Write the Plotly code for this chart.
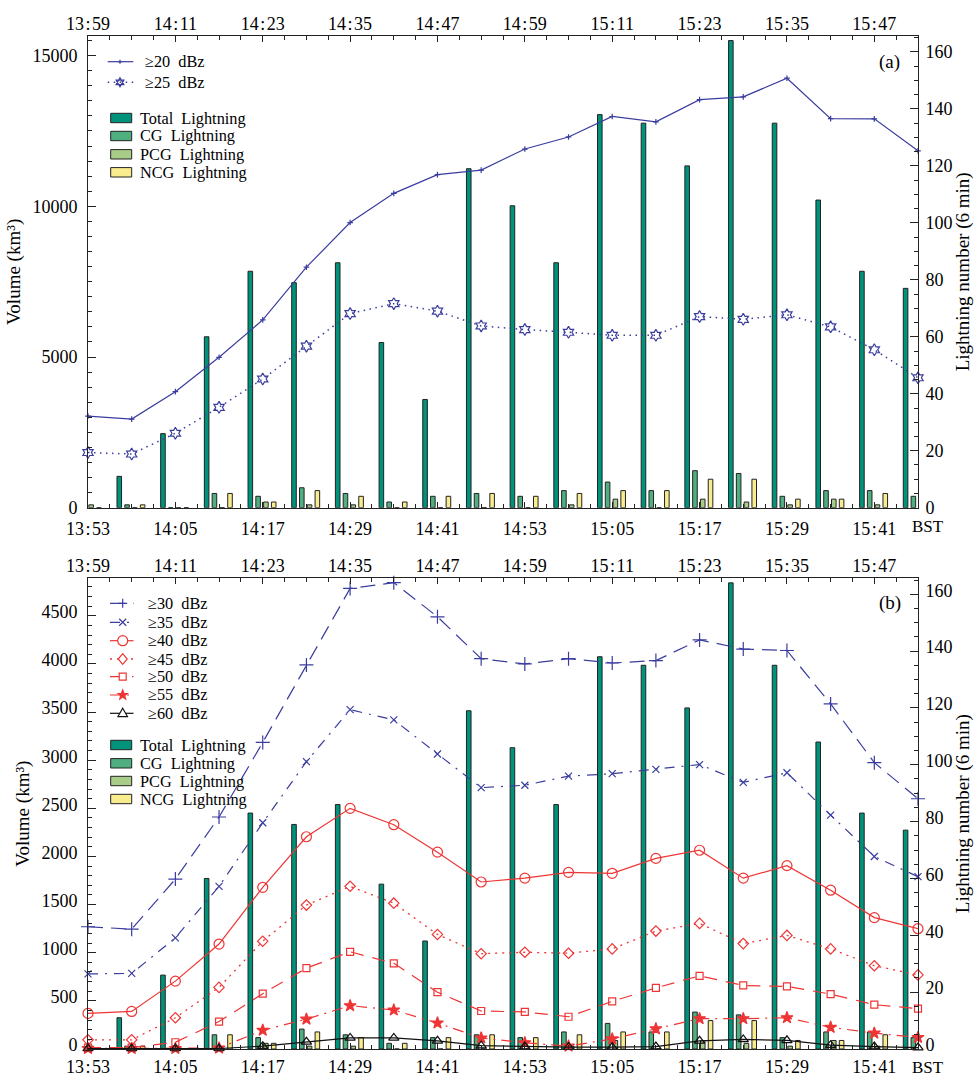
import math
import plotly.graph_objects as go

# ---------------- data ----------------
sample_times = ["13:53", "13:59", "14:05", "14:11", "14:17", "14:23", "14:29", "14:35",
                "14:41", "14:47", "14:53", "14:59", "15:05", "15:11", "15:17", "15:23",
                "15:29", "15:35", "15:41", "15:47"]
bottom_tick_labels = ["13:53", "14:05", "14:17", "14:29", "14:41", "14:53", "15:05",
                      "15:17", "15:29", "15:41"]
top_tick_labels = ["13:59", "14:11", "14:23", "14:35", "14:47", "14:59", "15:11",
                   "15:23", "15:35", "15:47"]

total_lightning = [None, 11, 26, 60, 83, 79, 86, 58, 38, 119, 106, 86, 138, 135, 120, 164, 135, 108, 83, 77]
cg_lightning = [None, 1, 0, 5, 4, 7, 5, 2, 4, 5, 4, 6, 9, 6, 13, 12, 4, 6, 6, 4]
pcg_lightning = [1, 0, 0, 0, 2, 1, 1, 0, 0, 0, 0, 1, 3, 0, 3, 2, 1, 3, 1, None]
ncg_lightning = [0, 1, 0, 5, 2, 6, 4, 2, 4, 5, 4, 5, 6, 6, 10, 10, 3, 3, 5, None]

vol_20 = [3040, 2940, 3850, 4990, 6230, 7980, 9460, 10430, 11050, 11200, 11900, 12300,
          12980, 12800, 13540, 13630, 14250, 12910, 12900, 11840]
vol_25 = [1830, 1780, 2470, 3330, 4270, 5360, 6440, 6770, 6520, 6030, 5910, 5820,
          5720, 5720, 6340, 6250, 6400, 6000, 5240, 4310]
vol_30 = [1270, 1245, 1765, 2410, 3185, 3990, 4785, 4845, 4490, 4055, 4000, 4055,
          4010, 4035, 4250, 4155, 4140, 3585, 2975, 2600]
vol_35 = [780, 785, 1155, 1690, 2350, 2985, 3525, 3420, 3065, 2715, 2740, 2835,
          2860, 2905, 2955, 2770, 2870, 2430, 2000, 1790]
vol_40 = [370, 390, 705, 1090, 1680, 2205, 2500, 2330, 2045, 1735, 1775, 1835,
          1825, 1980, 2065, 1775, 1905, 1650, 1365, 1250]
vol_45 = [95, 95, 325, 640, 1120, 1495, 1690, 1515, 1190, 990, 1005, 995,
          1040, 1225, 1305, 1095, 1180, 1040, 865, 770]
vol_50 = [15, 15, 70, 285, 575, 840, 1010, 890, 590, 395, 385, 335,
          495, 635, 760, 660, 650, 570, 460, 420]
vol_55 = [5, 5, 5, 10, 195, 310, 450, 405, 270, 115, 65, 30,
          105, 210, 315, 315, 325, 225, 165, 120]
vol_60 = [5, 5, 5, 5, 30, 75, 115, 115, 85, 35, 25, 20,
          20, 25, 85, 100, 90, 40, 25, 15]


def to_min(s):
    h, m = s.split(":")
    return int(h) * 60 + int(m) - (13 * 60 + 53)


def spaced(s):
    return s.replace(":", "\u200a:\u200a")


x = [to_min(t) for t in sample_times]
bottom_vals = [to_min(t) for t in bottom_tick_labels]
top_vals = [to_min(t) for t in top_tick_labels]

# ---------------- styles ----------------
FONT = "Liberation Serif"
BLUE = "#3a3d9e"
RED = "#ee3535"
BLACK = "#111111"
AX = "#222222"
C_TOTAL, C_CG, C_PCG, C_NCG = "#00937b", "#4faf80", "#a9cd89", "#f9ec8e"

W, H = 974, 1077
ML, MR, MT, MB = 88, 56, 36, 28
PW, PH = W - ML - MR, H - MT - MB


def pxx(x_):
    return (x_ - ML) / PW


def pxy(y_):
    return (H - MB - y_) / PH


A_TOP, A_BOT = 36, 507.7
B_TOP, B_BOT = 578.3, 1049
dom_a = [pxy(A_BOT), pxy(A_TOP)]
dom_b = [pxy(B_BOT), pxy(B_TOP)]

bar_defs = [
    ("Total Lightning", total_lightning, C_TOTAL, -2.02),
    ("CG Lightning", cg_lightning, C_CG, -0.95),
    ("PCG Lightning", pcg_lightning, C_PCG, 0.12),
    ("NCG Lightning", ncg_lightning, C_NCG, 1.19),
]

lines_a = [
    ("≥20 dBz", vol_20, BLUE, "solid", "cross-thin-open", 4, 1.2),
    ("≥25 dBz", vol_25, BLUE, "1.5px,4.5px", "hexagram-open", 9, 1.5),
]
lines_b = [
    ("≥30 dBz", vol_30, BLUE, "15px,8px", "cross-thin-open", 10, 1.2),
    ("≥35 dBz", vol_35, BLUE, "10px,7px,2px,7px", "x-thin-open", 7, 1.2),
    ("≥40 dBz", vol_40, RED, "solid", "circle-open", 10, 1.2),
    ("≥45 dBz", vol_45, RED, "2px,5px", "diamond-open", 8, 1.3),
    ("≥50 dBz", vol_50, RED, "13px,9px", "square-open", 7, 1.2),
    ("≥55 dBz", vol_55, RED, "11px,6px,2px,6px", "star", 9, 1.2),
    ("≥60 dBz", vol_60, BLACK, "solid", "triangle-up-open", 9, 1.2),
]

fig = go.Figure()

for xa, ya in (("x", "y"), ("x3", "y3")):
    for name, vals, col, off in bar_defs:
        fig.add_trace(go.Bar(x=x, y=vals, offset=off, width=0.63, name=name,
                             xaxis=xa, yaxis=ya, showlegend=False,
                             marker=dict(color=col, line=dict(color=AX, width=1))))

for lines, xa, ya in ((lines_a, "x", "y2"), (lines_b, "x3", "y4")):
    for name, vals, col, dash, sym, size, lw in lines:
        fig.add_trace(go.Scatter(x=x, y=vals, mode="lines+markers", name=name,
                                 xaxis=xa, yaxis=ya, showlegend=False, cliponaxis=False,
                                 line=dict(color=col, width=lw, dash=dash),
                                 marker=dict(symbol=sym, size=size, color=col,
                                             line=dict(color=col, width=1.2))))

# empty traces so that the top (end-of-interval) time axes are drawn
for xa, ya in (("x2", "y"), ("x4", "y3")):
    fig.add_trace(go.Scatter(x=[], y=[], xaxis=xa, yaxis=ya, showlegend=False,
                             hoverinfo="skip", mode="markers"))

# ---------------- axes ----------------
minor_bottom = list(range(0, 115, 3))
minor_top = list(range(6, 121, 3))


def xaxis_cfg(**kw):
    d = dict(showline=True, linecolor=AX, linewidth=1, ticks="inside", ticklen=6,
             tickcolor=AX, showgrid=False, zeroline=False, tickmode="array", automargin=False,
             tickfont=dict(size=18, family=FONT, color="black"), ticklabelstandoff=4)
    d.update(kw)
    return d


def yaxis_cfg(**kw):
    d = dict(showline=True, linecolor=AX, linewidth=1, ticks="inside", ticklen=8,
             tickcolor=AX, showgrid=False, zeroline=False, tickmode="linear", tick0=0,
             automargin=False, tickformat="d", tickfont=dict(size=18, family=FONT, color="black"))
    d.update(kw)
    return d


def minor_x(vals):
    return dict(tickmode="array", tickvals=vals, ticks="inside", ticklen=4, tickcolor=AX)


layout_axes = dict(
    xaxis=xaxis_cfg(domain=[0, 1], anchor="y", range=[0, 114], tickvals=bottom_vals,
                    ticktext=[spaced(s) for s in bottom_tick_labels], minor=minor_x(minor_bottom),
                    ticklabelstandoff=5),
    xaxis2=xaxis_cfg(overlaying="x", side="top", anchor="y", range=[6, 120], tickvals=top_vals,
                     ticktext=[spaced(s) for s in top_tick_labels], minor=minor_x(minor_top),
                     ticklabelstandoff=-2),
    yaxis=yaxis_cfg(domain=dom_a, anchor="x", side="right", range=[0, 165.6], dtick=20,
                    ticklabelstandoff=3,
                    minor=dict(dtick=5, ticks="inside", ticklen=4, tickcolor=AX),
                    title=dict(text="Lightning number (6 min)", font=dict(size=19, family=FONT),
                               standoff=6)),
    yaxis2=yaxis_cfg(overlaying="y", side="left", anchor="x", range=[0, 15650], dtick=5000,
                     ticklabelstandoff=6,
                     minor=dict(dtick=500, ticks="inside", ticklen=4, tickcolor=AX),
                     title=dict(text="Volume (km³)", font=dict(size=19, family=FONT), standoff=6)),
    xaxis3=xaxis_cfg(domain=[0, 1], anchor="y3", range=[0, 114], tickvals=bottom_vals,
                     ticktext=[spaced(s) for s in bottom_tick_labels], minor=minor_x(minor_bottom),
                     ticklabelstandoff=1),
    xaxis4=xaxis_cfg(overlaying="x3", side="top", anchor="y3", range=[6, 120], tickvals=top_vals,
                     ticktext=[spaced(s) for s in top_tick_labels], minor=minor_x(minor_top),
                     ticklabelstandoff=-2),
    yaxis3=yaxis_cfg(domain=dom_b, anchor="x3", side="right", range=[0, 165.6], dtick=20,
                     ticklabelstandoff=3, ticklabelshift=-4,
                     minor=dict(dtick=5, ticks="inside", ticklen=4, tickcolor=AX),
                     title=dict(text="Lightning number (6 min)", font=dict(size=19, family=FONT),
                                standoff=6)),
    yaxis4=yaxis_cfg(overlaying="y3", side="left", anchor="x3", range=[0, 4890], dtick=500,
                     ticklabelstandoff=6, ticklabelshift=-4,
                     minor=dict(dtick=100, ticks="inside", ticklen=4, tickcolor=AX),
                     title=dict(text="Volume (km³)", font=dict(size=19, family=FONT), standoff=6)),
)

# ---------------- manual legends ----------------
shapes = []
annotations = []


def P(xp, yp):
    return f"{pxx(xp):.5f},{pxy(yp):.5f}"


def marker_shapes(sym, cx, cy, r, col):
    ln = dict(color=col, width=1.2)
    out = []
    if sym.startswith("cross"):
        out.append(dict(type="path", path=f"M{P(cx - r, cy)} L{P(cx + r, cy)} M{P(cx, cy - r)} L{P(cx, cy + r)}", line=ln))
    elif sym.startswith("x"):
        out.append(dict(type="path", path=f"M{P(cx - r, cy - r)} L{P(cx + r, cy + r)} M{P(cx - r, cy + r)} L{P(cx + r, cy - r)}", line=ln))
    elif sym.startswith("circle"):
        out.append(dict(type="circle", x0=pxx(cx - r), x1=pxx(cx + r), y0=pxy(cy + r), y1=pxy(cy - r),
                        line=ln, fillcolor="white"))
    elif sym.startswith("diamond"):
        out.append(dict(type="path", path=f"M{P(cx, cy - r * 1.2)} L{P(cx + r, cy)} L{P(cx, cy + r * 1.2)} L{P(cx - r, cy)} Z",
                        line=ln, fillcolor="white"))
    elif sym.startswith("square"):
        out.append(dict(type="rect", x0=pxx(cx - r), x1=pxx(cx + r), y0=pxy(cy + r), y1=pxy(cy - r),
                        line=ln, fillcolor="white"))
    elif sym == "star":
        pts = []
        for k in range(10):
            rr = r if k % 2 == 0 else r * 0.42
            a = -math.pi / 2 + k * math.pi / 5
            pts.append(P(cx + rr * math.cos(a), cy + rr * math.sin(a)))
        out.append(dict(type="path", path="M" + " L".join(pts) + " Z", line=ln, fillcolor=col))
    elif sym.startswith("triangle"):
        out.append(dict(type="path", path=f"M{P(cx, cy - r)} L{P(cx + r * 0.95, cy + r * 0.65)} L{P(cx - r * 0.95, cy + r * 0.65)} Z",
                        line=ln, fillcolor="white"))
    elif sym.startswith("hexagram"):
        t1 = [P(cx + r * math.cos(math.radians(a)), cy + r * math.sin(math.radians(a))) for a in (-90, 30, 150)]
        t2 = [P(cx + r * math.cos(math.radians(a)), cy + r * math.sin(math.radians(a))) for a in (90, 210, 330)]
        out.append(dict(type="path", path="M" + " L".join(t1) + " Z M" + " L".join(t2) + " Z",
                        line=ln, fillcolor="white"))
    for s in out:
        s.update(xref="paper", yref="paper", layer="above")
    return out


def text(xp, yp, t, size=16.3, anchor="left"):
    annotations.append(dict(x=pxx(xp), y=pxy(yp), xref="paper", yref="paper", text=t,
                            showarrow=False, xanchor=anchor, yanchor="middle", borderpad=0,
                            font=dict(family=FONT, size=size, color="black")))


def line_legend(entries, rows, x0, x1, xm, xt, msizes):
    for (name, vals, col, dash, sym, size, lw), yr, ms in zip(entries, rows, msizes):
        shapes.append(dict(type="line", xref="paper", yref="paper", x0=pxx(x0), x1=pxx(x1),
                           y0=pxy(yr), y1=pxy(yr), line=dict(color=col, width=lw, dash=dash)))
        shapes.extend(marker_shapes(sym, xm, yr, ms, col))
        text(xt, yr, name.replace(" ", "\u2002"))


def bar_legend(rows):
    for (name, vals, col, off), yr in zip(bar_defs, rows):
        shapes.append(dict(type="rect", xref="paper", yref="paper", x0=pxx(110.7), x1=pxx(131.7),
                           y0=pxy(yr + 4.7), y1=pxy(yr - 4.7), fillcolor=col,
                           line=dict(color=AX, width=1)))
        text(139.3, yr, name.replace(" ", "\u2002"))


line_legend(lines_a, [61.7, 82.3], 107.7, 133.3, 120, 144.3, [2, 4.5])
bar_legend([118, 136, 154.3, 172.3])
line_legend(lines_b, [603.3, 622.3, 640.7, 659, 676.7, 695, 713.3], 110, 133.5, 122.7, 146.7,
            [4.5, 3.5, 5, 4.5, 3.5, 5, 5])
bar_legend([745, 763.3, 781, 799])

text(889, 62, "(a)", size=19, anchor="center")
text(890, 603, "(b)", size=19, anchor="center")
text(928, 526.5, "BST", size=17, anchor="center")
text(928, 1067, "BST", size=17, anchor="center")

fig.update_layout(
    template="none",
    width=W, height=H, margin=dict(l=ML, r=MR, t=MT, b=MB),
    paper_bgcolor="white", plot_bgcolor="white",
    font=dict(family=FONT, size=18, color="black"),
    barmode="overlay", showlegend=False,
    shapes=shapes, annotations=annotations,
    **layout_axes,
)

fig.write_html("out.html")
